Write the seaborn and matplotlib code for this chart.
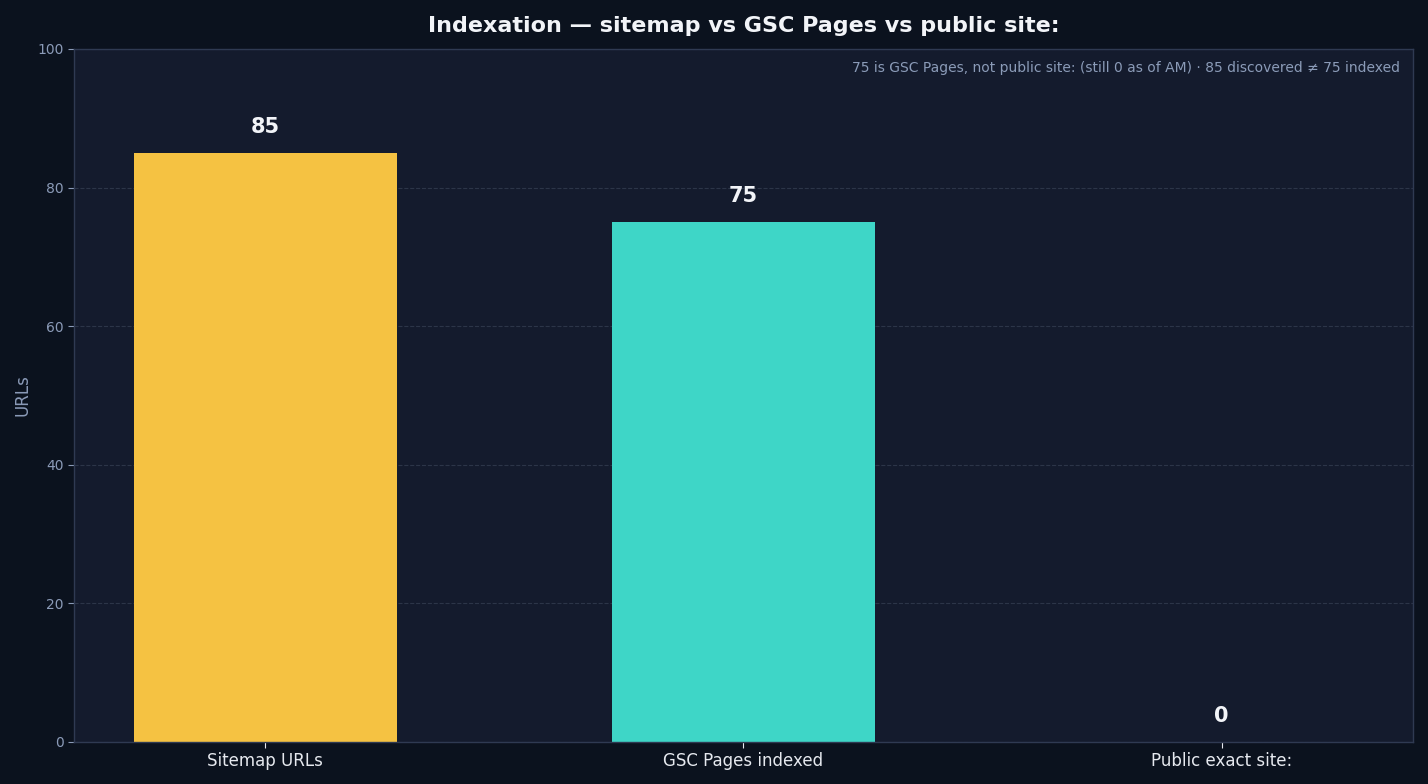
import matplotlib
matplotlib.use("Agg")
import matplotlib.pyplot as plt
import seaborn as sns
import pandas as pd

categories = ["Sitemap URLs", "GSC Pages indexed", "Public exact site:"]
values = [85, 75, 0]
colors = ["#f5c242", "#3ed6c7", "#8a93a6"]

fig_bg = "#0b121e"
ax_bg = "#141b2d"
muted = "#8b9bb8"

sns.set_theme(style="dark")
plt.rcParams["font.family"] = ["DejaVu Sans"]

df = pd.DataFrame({"cat": categories, "val": values})

fig, ax = plt.subplots(figsize=(14.28, 7.84), dpi=100)
fig.patch.set_facecolor(fig_bg)
ax.set_facecolor(ax_bg)
fig.subplots_adjust(left=0.0518, right=0.9895, top=0.9375, bottom=0.0536)

sns.barplot(data=df, x="cat", y="val", hue="cat", palette=colors,
            width=0.55, legend=False, ax=ax, saturation=1, linewidth=0,
            edgecolor="none")

for i, v in enumerate(values):
    ax.text(i, v + 2.3, str(v), ha="center", va="bottom",
            color="#f2f4f8", fontsize=15, fontweight="bold")

ax.set_ylim(0, 100)
ax.set_xlim(-0.4, 2.4)
ax.set_yticks([0, 20, 40, 60, 80, 100])
ax.yaxis.grid(True, linestyle="--", color="#2c3548", linewidth=0.8)
ax.xaxis.grid(False)
ax.set_axisbelow(True)

ax.set_title("Indexation — sitemap vs GSC Pages vs public site:",
             color="#f2f4f8", fontsize=16, fontweight="bold", pad=12)
ax.set_xlabel("")
ax.set_ylabel("URLs", color=muted, fontsize=12)
ax.tick_params(axis="x", colors="#e6e9ef", labelsize=12, length=4, width=0.8)
ax.tick_params(axis="y", colors=muted, labelsize=10, length=4, width=0.8)
ax.tick_params(axis="both", which="both", bottom=True, left=True)
for s in ax.spines.values():
    s.set_color("#2f3a52")
    s.set_linewidth(1)

ax.text(0.99, 0.982,
        "75 is GSC Pages, not public site: (still 0 as of AM) · 85 discovered ≠ 75 indexed",
        transform=ax.transAxes, ha="right", va="top", color=muted, fontsize=10)

fig.savefig("out.png", dpi=100, facecolor=fig_bg)
